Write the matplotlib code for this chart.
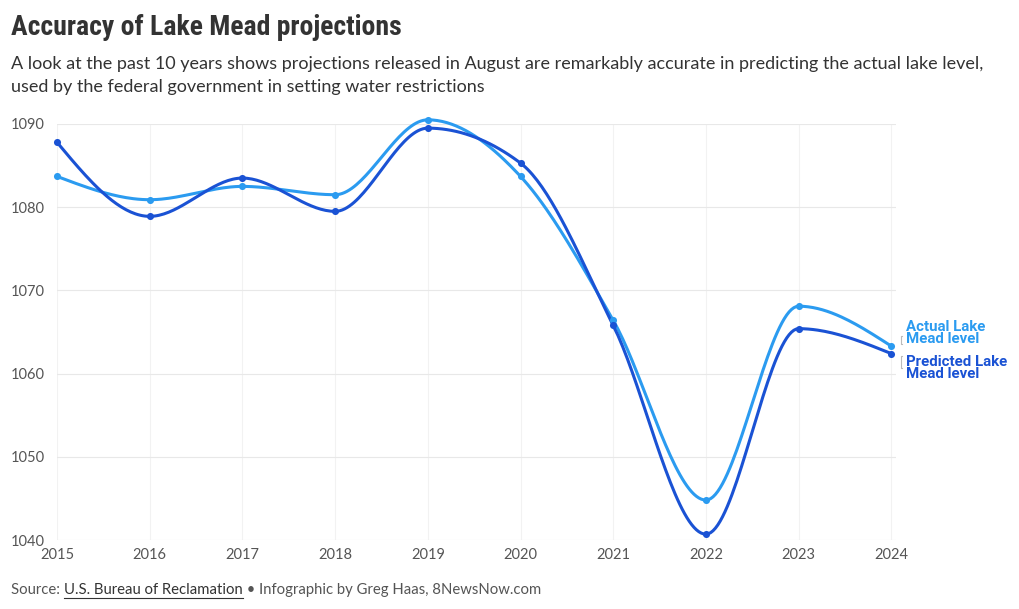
import numpy as np
import matplotlib
matplotlib.use("Agg")
import matplotlib.pyplot as plt

# Data
years = [2015, 2016, 2017, 2018, 2019, 2020, 2021, 2022, 2023, 2024]
actual = [1083.7, 1080.9, 1082.5, 1081.5, 1090.5, 1083.7, 1066.4, 1044.8, 1068.1, 1063.3]
predicted = [1087.8, 1078.9, 1083.5, 1079.5, 1089.5, 1085.3, 1065.8, 1040.7, 1065.4, 1062.4]
y_ticks = [1040, 1050, 1060, 1070, 1080, 1090]

light_blue = "#2b9bf0"
dark_blue = "#1a52d4"
grid_col = "#e8e8e8"
text_gray = "#555555"


# monotone cubic curve (like d3 curveMonotoneX) through the points
def monotone_curve(x, y, n=40):
    x = np.asarray(x, float)
    y = np.asarray(y, float)
    h = np.diff(x)
    s = np.diff(y) / h
    m = np.zeros_like(y)
    for i in range(1, len(y) - 1):
        if s[i - 1] * s[i] <= 0:
            m[i] = 0
        else:
            p = (s[i - 1] * h[i] + s[i] * h[i - 1]) / (h[i - 1] + h[i])
            m[i] = (np.sign(s[i - 1]) + np.sign(s[i])) * min(abs(s[i - 1]), abs(s[i]), 0.5 * abs(p))
    m[0] = (3 * s[0] - m[1]) / 2
    m[-1] = (3 * s[-1] - m[-2]) / 2
    xs, ys = [], []
    for i in range(len(x) - 1):
        t = np.linspace(0, 1, n)
        h00 = 2 * t**3 - 3 * t**2 + 1
        h10 = t**3 - 2 * t**2 + t
        h01 = -2 * t**3 + 3 * t**2
        h11 = t**3 - t**2
        xs.append(x[i] + t * h[i])
        ys.append(h00 * y[i] + h10 * h[i] * m[i] + h01 * y[i + 1] + h11 * h[i] * m[i + 1])
    return np.concatenate(xs), np.concatenate(ys)


fig = plt.figure(figsize=(10.2, 6.09), dpi=100)
ax = fig.add_axes([0.0559, 0.1133, 0.8225, 0.6831])

for vals, col in [(actual, light_blue), (predicted, dark_blue)]:
    cx, cy = monotone_curve(years, vals)
    ax.plot(cx, cy, color=col, lw=2.2, clip_on=False, zorder=3)
    ax.scatter(years, vals, s=26, color=col, zorder=4, clip_on=False, linewidths=0)

ax.set_xlim(2015, 2024.05)
ax.set_ylim(1040, 1090)
ax.set_yticks(y_ticks)
ax.set_xticks(years)
ax.set_xticklabels([str(y) for y in years])
ax.yaxis.grid(True, color=grid_col, lw=0.8)
ax.xaxis.grid(True, color="#f2f2f2", lw=0.8)
ax.set_axisbelow(True)
for sp in ax.spines.values():
    sp.set_visible(False)
ax.tick_params(length=0, labelsize=10.5, labelcolor=text_gray, pad=6)
ax.tick_params(axis="y", pad=9)
for lab in ax.get_xticklabels() + ax.get_yticklabels():
    lab.set_family("Lato")

# line labels at the right end, with small brackets
ax.text(1.012, 0.497, "Actual Lake\nMead level", transform=ax.transAxes, color=light_blue,
        fontsize=10.8, fontweight="bold", family="Roboto", va="center", ha="left", linespacing=0.85)
ax.text(1.012, 0.413, "Predicted Lake\nMead level", transform=ax.transAxes, color=dark_blue,
        fontsize=10.8, fontweight="bold", family="Roboto", va="center", ha="left", linespacing=0.85)
for y0, y1 in [(0.471, 0.491), (0.413, 0.442)]:
    ax.plot([1.0075, 1.0065, 1.0065, 1.0075], [y1, y1, y0, y0], transform=ax.transAxes,
            color="#bbbbbb", lw=0.8, clip_on=False)

# title, subtitle
fig.text(0.011, 0.955, "Accuracy of Lake Mead projections", fontsize=20, fontweight="bold",
         family=["Roboto Condensed", "Roboto"], fontstretch="condensed", color="#333333", va="center")
fig.text(0.011, 0.876,
         "A look at the past 10 years shows projections released in August are remarkably accurate in predicting the actual lake level,\n"
         "used by the federal government in setting water restrictions",
         fontsize=13, family="Lato", color="#333333", va="center", linespacing=1.58)

# source line with underlined link
t1 = fig.text(0.011, 0.031, "Source: ", fontsize=10.7, family="Lato", color=text_gray, va="center")
fig.canvas.draw()
r = fig.canvas.get_renderer()
bb = t1.get_window_extent(r)
x2 = bb.x1 / fig.bbox.width
t2 = fig.text(x2, 0.031, "U.S. Bureau of Reclamation", fontsize=10.7, family="Lato", color="#333333", va="center")
bb2 = t2.get_window_extent(r)
fig.add_artist(plt.Line2D([bb2.x0 / fig.bbox.width, bb2.x1 / fig.bbox.width],
                          [(bb2.y0 - 1) / fig.bbox.height] * 2, color="#333333", lw=0.8))
fig.text(bb2.x1 / fig.bbox.width, 0.031, " \u2022 Infographic by Greg Haas, 8NewsNow.com",
         fontsize=10.7, family="Lato", color=text_gray, va="center")

fig.savefig("out.png", dpi=100)
